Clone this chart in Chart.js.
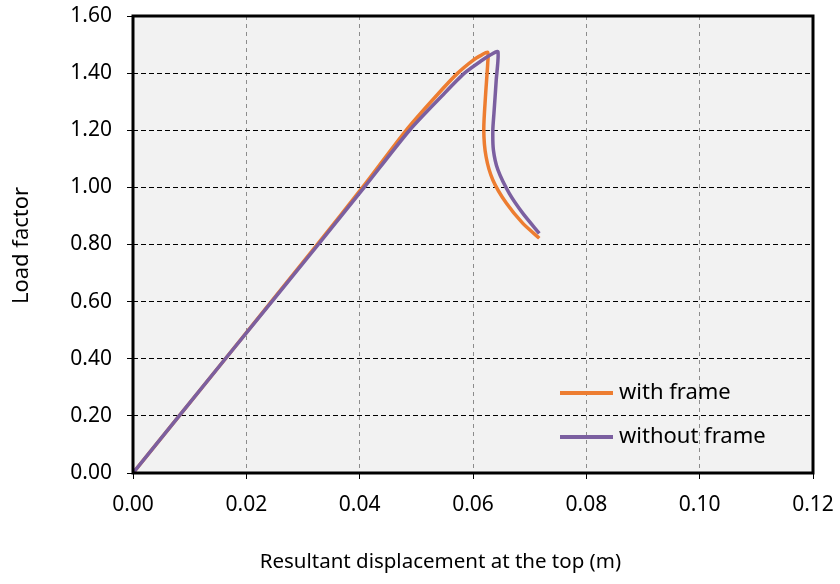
<!DOCTYPE html>
<html>
<head>
<meta charset="utf-8">
<script src="https://cdn.jsdelivr.net/npm/chart.js@4"></script>
<style>
  html, body { margin: 0; padding: 0; background: #fff; }
  #wrap { width: 840px; height: 584px; }
</style>
</head>
<body>
<div id="wrap"><canvas id="load-chart" width="840" height="584"></canvas></div>
<script>
'use strict';

// DATA

let seriesNames = ['with frame', 'without frame'];

let withFrameX = [0, 0.0163, 0.0325, 0.0405, 0.0482, 0.0535, 0.0573, 0.0600, 0.0615, 0.0626, 0.0626, 0.0622, 0.0619, 0.0623, 0.0635, 0.0659, 0.0688, 0.0717];
let withFrameY = [0, 0.40, 0.80, 1.00, 1.20, 1.32, 1.40, 1.445, 1.463, 1.473, 1.435, 1.318, 1.201, 1.108, 1.026, 0.944, 0.874, 0.822];

let withoutFrameX = [0, 0.0163, 0.0327, 0.0408, 0.0488, 0.0545, 0.0585, 0.0616, 0.0632, 0.0644, 0.0641, 0.0637, 0.0635, 0.0636, 0.0644, 0.0664, 0.0688, 0.0717];
let withoutFrameY = [0, 0.40, 0.80, 1.00, 1.20, 1.32, 1.40, 1.445, 1.465, 1.475, 1.376, 1.260, 1.201, 1.131, 1.061, 0.979, 0.909, 0.839];

let xTickValues = [0, 0.02, 0.04, 0.06, 0.08, 0.10, 0.12];
let yTickValues = [0, 0.20, 0.40, 0.60, 0.80, 1.00, 1.20, 1.40, 1.60];

let xTitle = 'Resultant displacement at the top (m)';
let yTitle = 'Load factor';

// HELPERS

function toPoints(xs, ys) {
  let pts = [];
  for (let i = 0; i < xs.length; i++) {
    pts.push({ x: xs[i], y: ys[i] });
  }
  return pts;
}

const FONT = '"Noto Sans", "Open Sans", sans-serif';
const TICK_SIZE = 21;

// PLUGINS

// grey plot background + black frame
let plotFrame = {
  id: 'plotFrame',
  beforeDraw(chart) {
    let a = chart.chartArea;
    let c = chart.ctx;
    c.save();
    c.fillStyle = '#f2f2f2';
    c.fillRect(a.left, a.top, a.right - a.left, a.bottom - a.top);
    c.restore();
  },
  afterDraw(chart) {
    let a = chart.chartArea;
    let c = chart.ctx;
    c.save();
    c.strokeStyle = '#000';
    c.lineWidth = 3;
    c.strokeRect(a.left, a.top, a.right - a.left, a.bottom - a.top);
    c.restore();
  }
};

// axis titles, placed like the original
let axisTitles = {
  id: 'axisTitles',
  afterDraw(chart) {
    let a = chart.chartArea;
    let c = chart.ctx;
    c.save();
    c.fillStyle = '#000';
    c.textAlign = 'center';
    c.textBaseline = 'middle';
    c.font = '20.5px ' + FONT;
    c.fillText(xTitle, a.left + (a.right - a.left) * 0.452, a.bottom + 89);
    c.font = '22px ' + FONT;
    c.translate(22, (a.top + a.bottom) / 2 + 1);
    c.rotate(-Math.PI / 2);
    c.fillText(yTitle, 0, 0);
    c.restore();
  }
};

// legend inside the plot, lower right
let innerLegend = {
  id: 'innerLegend',
  afterDraw(chart) {
    let a = chart.chartArea;
    let c = chart.ctx;
    c.save();
    c.font = '22px ' + FONT;
    c.textBaseline = 'middle';
    c.textAlign = 'left';
    chart.data.datasets.forEach((ds, i) => {
      let y = a.top + 377 + i * 44;
      let x0 = a.left + 427;
      c.strokeStyle = ds.borderColor;
      c.lineWidth = 4;
      c.beginPath();
      c.moveTo(x0, y);
      c.lineTo(x0 + 53, y);
      c.stroke();
      c.fillStyle = '#000';
      c.fillText(ds.label, x0 + 59, y);
    });
    c.restore();
  }
};

// CHART

let ctx = document.getElementById('load-chart');

let chartObject = {
  type: 'scatter',
  data: {
    datasets: [{
      label: seriesNames[0],
      data: toPoints(withFrameX, withFrameY),
      borderColor: '#ED7D31',
      backgroundColor: '#ED7D31',
      borderWidth: 3.5,
      showLine: true,
      pointRadius: 0,
      tension: 0.25,
      order: 1
    },
    {
      label: seriesNames[1],
      data: toPoints(withoutFrameX, withoutFrameY),
      borderColor: '#7B5FA0',
      backgroundColor: '#7B5FA0',
      borderWidth: 3.5,
      showLine: true,
      pointRadius: 0,
      tension: 0.25,
      order: 0
    }]
  },
  options: {
    responsive: false,
    animation: false,
    events: [],
    layout: {
      padding: { left: 0, right: 27, top: 16, bottom: 0 }
    },
    plugins: {
      legend: { display: false },
      tooltip: { enabled: false }
    },
    scales: {
      x: {
        type: 'linear',
        min: 0,
        max: 0.12,
        afterBuildTicks: axis => { axis.ticks = xTickValues.map(v => ({ value: v })); },
        afterFit: axis => {
          axis.height = 111;
          axis.paddingLeft = 0;
          axis.paddingRight = 0;
        },
        ticks: {
          color: '#000',
          padding: 13,
          maxRotation: 0,
          font: { family: FONT, size: TICK_SIZE },
          callback: v => v.toFixed(2)
        },
        grid: {
          color: '#8c8c8c',
          tickColor: '#000',
          tickLength: 6,
          tickBorderDash: [1, 0]
        },
        border: { display: false, dash: [4, 4] }
      },
      y: {
        type: 'linear',
        min: 0,
        max: 1.6,
        afterBuildTicks: axis => { axis.ticks = yTickValues.map(v => ({ value: v })); },
        afterFit: axis => {
          axis.width = 133;
          axis.paddingTop = 0;
          axis.paddingBottom = 0;
        },
        ticks: {
          color: '#000',
          padding: 15,
          font: { family: FONT, size: TICK_SIZE },
          callback: v => v.toFixed(2)
        },
        grid: {
          color: '#000',
          tickColor: '#000',
          tickLength: 6,
          tickBorderDash: [1, 0]
        },
        border: { display: false, dash: [5, 3] }
      }
    }
  },
  plugins: [plotFrame, axisTitles, innerLegend]
};

const loadChart = new Chart(ctx, chartObject);
</script>
</body>
</html>
